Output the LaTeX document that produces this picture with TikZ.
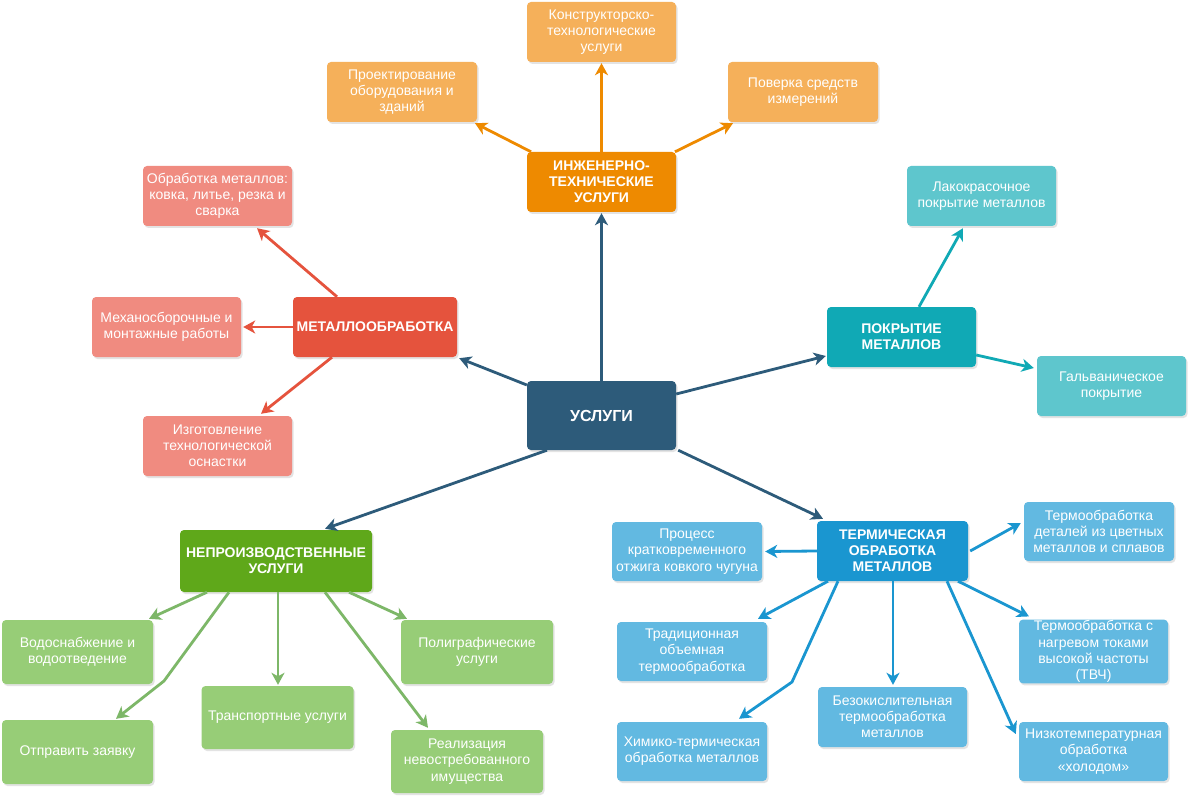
\documentclass[tikz,border=0pt]{standalone}
\usepackage{fontspec}
\setmainfont{Liberation Sans}
\usetikzlibrary{arrows.meta,shadows,calc}
\definecolor{cmain}{HTML}{2D5B7A}
\definecolor{cengH}{HTML}{EE8A00}
\definecolor{cengL}{HTML}{F5B05A}
\definecolor{cmetH}{HTML}{E5533D}
\definecolor{cmetL}{HTML}{F08B80}
\definecolor{cpokH}{HTML}{10A9B5}
\definecolor{cpokL}{HTML}{5EC6CD}
\definecolor{cnepH}{HTML}{5FA81A}
\definecolor{cnepL}{HTML}{97CD77}
\definecolor{cnepA}{HTML}{7DB768}
\definecolor{cterH}{HTML}{1A96D0}
\definecolor{cterL}{HTML}{62B9E1}
\tikzset{
  box/.style={rounded corners=4pt, text=white, align=center, inner sep=1pt,
    font=\fontsize{14}{16.2}\selectfont,
    drop shadow={opacity=0.22, shadow xshift=1.5pt, shadow yshift=-2pt}},
  head/.style={box, font=\bfseries\fontsize{14}{16}\selectfont},
  sz/.style args={#1x#2}{minimum width=#1pt, minimum height=#2pt},
  arr/.style={line width=2.8pt, -{Stealth[length=12pt,width=13pt,inset=3.5pt]}},
}
\begin{document}
\begin{tikzpicture}[x=1pt,y=-1pt]
\useasboundingbox[fill=white] (0,0) rectangle (1200,805);
% center
\node[head, fill=cmain, sz=149x69, font=\bfseries\fontsize{16}{18}\selectfont] (c) at (601.5,415.5) {УСЛУГИ};
% engineering
\node[head, fill=cengH, sz=149x60] (eng) at (601.5,182) {ИНЖЕНЕРНО-\\ТЕХНИЧЕСКИЕ\\УСЛУГИ};
\node[box, fill=cengL, sz=149x60] (kt) at (601.5,32) {Конструкторско-\\технологические\\услуги};
\node[box, fill=cengL, sz=150x60] (proj) at (402,92) {Проектирование\\оборудования и\\зданий};
\node[box, fill=cengL, sz=150x60] (pov) at (803,92) {Поверка средств\\измерений};
% metal
\node[head, fill=cmetH, sz=164x60] (metal) at (375,327) {МЕТАЛЛООБРАБОТКА};
\node[box, fill=cmetL, sz=149x60] (obr) at (217.5,196) {Обработка металлов:\\ковка, литье, резка и\\сварка};
\node[box, fill=cmetL, sz=149x60] (mech) at (166.5,327) {Механосборочные и\\монтажные работы};
\node[box, fill=cmetL, sz=149x60] (izg) at (217.5,446) {Изготовление\\технологической\\оснастки};
% coating
\node[head, fill=cpokH, sz=149x60] (pokr) at (901.5,337) {ПОКРЫТИЕ\\МЕТАЛЛОВ};
\node[box, fill=cpokL, sz=149x60] (lak) at (981.5,196) {Лакокрасочное\\покрытие металлов};
\node[box, fill=cpokL, sz=149x60] (galv) at (1111.5,386) {Гальваническое\\покрытие};
% non-production
\node[head, fill=cnepH, sz=192x62] (nepr) at (276,561) {НЕПРОИЗВОДСТВЕННЫЕ\\УСЛУГИ};
\node[box, fill=cnepL, sz=151x64] (vodo) at (77.5,652) {Водоснабжение и\\водоотведение};
\node[box, fill=cnepL, sz=151x64] (otpr) at (77.5,752) {Отправить заявку};
\node[box, fill=cnepL, sz=152x63] (trans) at (277.5,717.5) {Транспортные услуги};
\node[box, fill=cnepL, sz=152x64] (polig) at (477,652) {Полиграфические\\услуги};
\node[box, fill=cnepL, sz=152x63] (real) at (467,761.5) {Реализация\\невостребованного\\имущества};
% thermal
\node[head, fill=cterH, sz=151x60] (term) at (892.5,551) {ТЕРМИЧЕСКАЯ\\ОБРАБОТКА\\МЕТАЛЛОВ};
\node[box, fill=cterL, sz=150x59] (proc) at (687,551.5) {Процесс\\кратковременного\\отжига ковкого чугуна};
\node[box, fill=cterL, sz=150x59] (term1) at (1099,531.5) {Термообработка\\деталей из цветных\\металлов и сплавов};
\node[box, fill=cterL, sz=150x59] (trad) at (692,651.5) {Традиционная\\объемная\\термообработка};
\node[box, fill=cterL, sz=149x59] (tvch) at (1093.5,651.5) {Термообработка с\\нагревом токами\\высокой частоты\\(ТВЧ)};
\node[box, fill=cterL, sz=149x60] (bezo) at (892.5,717) {Безокислительная\\термообработка\\металлов};
\node[box, fill=cterL, sz=150x59] (xim) at (692,751.5) {Химико-термическая\\обработка металлов};
\node[box, fill=cterL, sz=149x59] (nizko) at (1093.5,751.5) {Низкотемпературная\\обработка\\«холодом»};
% center arrows
\draw[arr, cmain] (c.north) -- ([yshift=-1pt]eng.south);
\draw[arr, cmain] (c.west |- 0,385) -- ([shift={(2pt,-1pt)}]metal.south east);
\draw[arr, cmain] (c.east |- 0,394) -- ([xshift=-1pt]pokr.west |- 0,356);
\draw[arr, cmain] (547,0 |- c.south) -- ([yshift=1pt]325,0 |- nepr.north);
\draw[arr, cmain] ([xshift=2pt]c.south east) -- ([yshift=2pt]823,0 |- term.north);
% engineering arrows
\draw[arr, cengH] (eng.north) -- ([yshift=-1pt]kt.south);
\draw[arr, cengH] (531,0 |- eng.north) -- ([yshift=-1pt]475,0 |- proj.south);
\draw[arr, cengH] (675,0 |- eng.north) -- ([yshift=-1pt]733,0 |- pov.south);
% metal arrows
\draw[arr, cmetH] (337,0 |- metal.north) -- ([yshift=-2pt]257,0 |- obr.south);
\draw[arr, cmetH] (metal.west) -- ([xshift=2pt]mech.east);
\draw[arr, cmetH] (332,0 |- metal.south) -- ([yshift=2pt]261,0 |- izg.north);
% coating arrows
\draw[arr, cpokH] (919,0 |- pokr.north) -- ([yshift=-2pt]963,0 |- lak.south);
\draw[arr, cpokH] (pokr.east |- 0,355) -- ([xshift=-3pt]galv.west |- 0,368);
% non-production arrows
\draw[arr, cnepA] (207,0 |- nepr.south) -- ([yshift=1pt]149,0 |- vodo.north);
\draw[arr, cnepA] (229,0 |- nepr.south) -- (164,681) -- ([yshift=1pt]116,0 |- otpr.north);
\draw[arr, cnepA] (278,0 |- nepr.south) -- ([yshift=1pt]278,0 |- trans.north);
\draw[arr, cnepA] (325,0 |- nepr.south) -- ([yshift=2pt]428,0 |- real.north);
\draw[arr, cnepA] (349,0 |- nepr.south) -- ([yshift=1pt]407,0 |- polig.north);
% thermal arrows
\draw[arr, cterH] (term.west) -- ([xshift=3pt]proc.east);
\draw[arr, cterH] ([xshift=2pt]term.east) -- ([xshift=-3pt]term1.west |- 0,523);
\draw[arr, cterH] (828,0 |- term.south) -- ([yshift=3pt]758,0 |- trad.north);
\draw[arr, cterH] (838,0 |- term.south) -- (792,682) -- ([yshift=3pt]739,0 |- xim.north);
\draw[arr, cterH] (893,0 |- term.south) -- ([yshift=2pt]893,0 |- bezo.north);
\draw[arr, cterH] (947,0 |- term.south) -- ([xshift=-3pt]nizko.west |- 0,734);
\draw[arr, cterH] (958,0 |- term.south) -- ([yshift=3pt]1029,0 |- tvch.north);
\end{tikzpicture}
\end{document}
